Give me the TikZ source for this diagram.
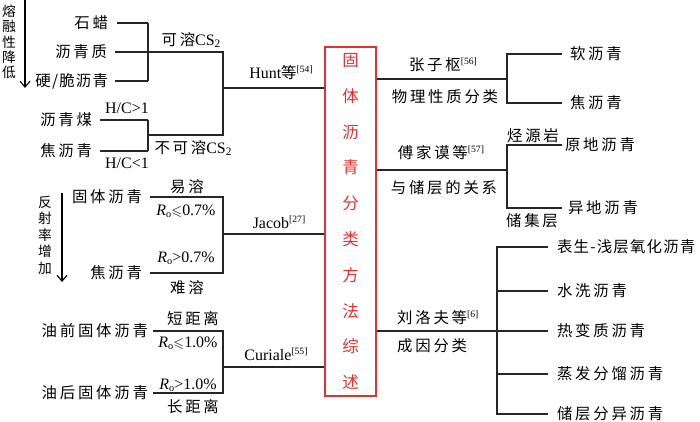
\documentclass[tikz,border=0pt]{standalone}
\usepackage{fontspec}
\usepackage{amssymb}
\setmainfont{Liberation Serif}[Scale=1.14]
\newfontfamily\cjk{Noto Sans CJK SC}[Scale=1.1, LetterSpace=18]
\newfontfamily\cjkn{Noto Sans CJK SC}[Scale=1.1, LetterSpace=8]
\newfontfamily\cjkt{Noto Sans CJK SC}[Scale=1.1]
\usetikzlibrary{arrows.meta}
\definecolor{myred}{RGB}{228,48,48}
\newcommand\refn[1]{\raisebox{6pt}{\fontsize{8.5}{8.5}\selectfont[#1]}}
\newcommand\Ro{{\itshape R}\raisebox{-2pt}{\fontsize{9}{9}\selectfont o}}
\newcommand\subtwo{\raisebox{-2pt}{\fontsize{10}{10}\selectfont 2}}
\begin{document}
\begin{tikzpicture}[x=1pt,y=-1pt,
  every node/.style={font=\fontsize{14}{16}\selectfont, inner sep=0pt},
  cn/.style={font=\fontsize{14}{16}\selectfont\cjk},
  ln/.style={line width=1.1pt, draw=black!85},
  arr/.style={line width=1.1pt, draw=black, -{Straight Barb[length=6pt,width=10pt]}},
  leafl/.style={cn, anchor=east, outer xsep=#1},
  leafr/.style={cn, anchor=west, outer xsep=#1}]
\useasboundingbox (0,0) rectangle (700,422);

% title box
\node[draw=myred, line width=1.2pt, minimum width=51pt, minimum height=349pt,
      text=myred, align=center, font=\cjkt\fontsize{15}{35.8}\selectfont] (title) at (350.5,221.5)
  {固\\体\\沥\\青\\分\\类\\方\\法\\综\\述};

% left vertical arrows
\coordinate (a1) at (25,0); \coordinate (a2) at (25,88);
\draw[arr] (a1) -- (a2);
\node[align=center, font=\cjkt\fontsize{12.5}{15.3}\selectfont] (rong) at (9,42) {熔\\融\\性\\降\\低};
\coordinate (b1) at (62,193); \coordinate (b2) at (62,282);
\draw[arr] (b1) -- (b2);
\node[align=center, font=\cjkt\fontsize{12.5}{16.5}\selectfont] (fan) at (45,235) {反\\射\\率\\增\\加};

% ---- Hunt group
\node[leafl=9pt] (sl) at (117,23) {石蜡};
\node[leafl=8pt] (lq) at (115,52) {沥青质};
\node[leafl=7pt, font=\fontsize{14}{16}\selectfont\cjkn] (yc) at (115,81) {硬/脆沥青};
\node[leafl=8pt] (lm) at (100,120) {沥青煤};
\node[leafl=8pt] (jq1) at (100,151) {焦沥青};
\coordinate (h1) at (148,52);
\coordinate (h2) at (148,135);
\coordinate (hj) at (223,88);
\draw[ln] (sl.east) -- (sl.east -| h1);
\draw[ln] (lq.east) -- (h1);
\draw[ln] (yc.east) -- (yc.east -| h1);
\draw[ln] (sl.east -| h1) -- (yc.east -| h1);
\draw[ln] (lm.east) -- (lm.east -| h2);
\draw[ln] (jq1.east) -- (jq1.east -| h2);
\draw[ln] (lm.east -| h2) -- (jq1.east -| h2);
\draw[ln] (h1) -- (h1 -| hj) -- (h2 -| hj) -- (h2);
\draw[ln] (hj) -- (title.west |- hj);
\node (kr) at (191,40) {{\cjk 可溶}CS\subtwo};
\node (bkr) at (193,148) {{\cjk 不可溶}CS\subtwo};
\node (hc1) at (127,108) {H/C>1};
\node (hc2) at (127,163) {H/C<1};
\node (hunt) at (281,73) {Hunt{\cjk 等}\refn{54}};

% ---- Jacob group
\node[leafl=8pt] (gt) at (150,197) {固体沥青};
\node[leafl=8pt] (jq2) at (150,273) {焦沥青};
\coordinate (jj) at (223,234);
\draw[ln] (gt.east) -- (gt.east -| jj) -- (jq2.east -| jj) -- (jq2.east);
\draw[ln] (jj) -- (title.west |- jj);
\node[cn] (yr) at (187,187) {易溶};
\node (r1) at (186,211) {\Ro$\leqslant$0.7\%};
\node (r2) at (186,258) {\Ro>0.7\%};
\node[cn] (nr) at (187,288) {难溶};
\node (jacob) at (279,222) {Jacob\refn{27}};

% ---- Curiale group
\node[leafl=5pt] (yq) at (153,331) {油前固体沥青};
\node[leafl=5pt] (yh) at (153,393) {油后固体沥青};
\coordinate (cj) at (223,367);
\draw[ln] (yq.east) -- (yq.east -| cj) -- (yh.east -| cj) -- (yh.east);
\draw[ln] (cj) -- (title.west |- cj);
\node[cn] (dj) at (193,319) {短距离};
\node (r3) at (188,343) {\Ro$\leqslant$1.0\%};
\node (r4) at (188,385) {\Ro>1.0\%};
\node[cn] (cjl) at (193,407) {长距离};
\node (curiale) at (276,354) {Curiale\refn{55}};

% ---- right: Zhang
\node[leafr=8pt] (rq) at (562,54) {软沥青};
\node[leafr=8pt] (jq3) at (562,103) {焦沥青};
\coordinate (zj) at (507,79);
\draw[ln] (title.east |- zj) -- (zj);
\draw[ln] (rq.west) -- (rq.west -| zj) -- (jq3.west -| zj) -- (jq3.west);
\node (zz) at (443,65) {{\cjk 张子枢}\refn{56}};
\node[cn] (wl) at (445,97) {物理性质分类};

% ---- right: Fu
\node[leafr=3pt] (yd) at (562,145) {原地沥青};
\node[leafr=6pt] (yd2) at (562,208) {异地沥青};
\coordinate (fj) at (507,170);
\draw[ln] (title.east |- fj) -- (fj);
\draw[ln] (yd.west) -- (yd.west -| fj) -- (yd2.west -| fj) -- (yd2.west);
\node (fu) at (441,153) {{\cjk 傅家谟等}\refn{57}};
\node[cn] (ycg) at (444,188) {与储层的关系};
\node[cn] (tyy) at (533,136) {烃源岩};
\node[cn] (cjc) at (532,221) {储集层};

% ---- right: Liu
\node[leafr=9pt, font=\fontsize{14}{16}\selectfont\cjkn] (l1) at (548,247) {表生-浅层氧化沥青};
\node[leafr=9pt] (l2) at (548,291) {水洗沥青};
\node[leafr=9pt] (l3) at (548,331) {热变质沥青};
\node[leafr=9pt] (l4) at (548,374) {蒸发分馏沥青};
\node[leafr=9pt] (l5) at (548,414) {储层分异沥青};
\coordinate (lj) at (497,331);
\draw[ln] (title.east |- lj) -- (lj);
\draw[ln] (l1.west) -- (l1.west -| lj) -- (l5.west -| lj) -- (l5.west);
\draw[ln] (l2.west) -- (l2.west -| lj);
\draw[ln] (l3.west) -- (l3.west -| lj);
\draw[ln] (l4.west) -- (l4.west -| lj);
\node[anchor=west] (liu) at (397,318) {{\cjk 刘洛夫等}\refn{6}};
\node[cn, anchor=west] (cy) at (397,346) {成因分类};
\end{tikzpicture}
\end{document}
